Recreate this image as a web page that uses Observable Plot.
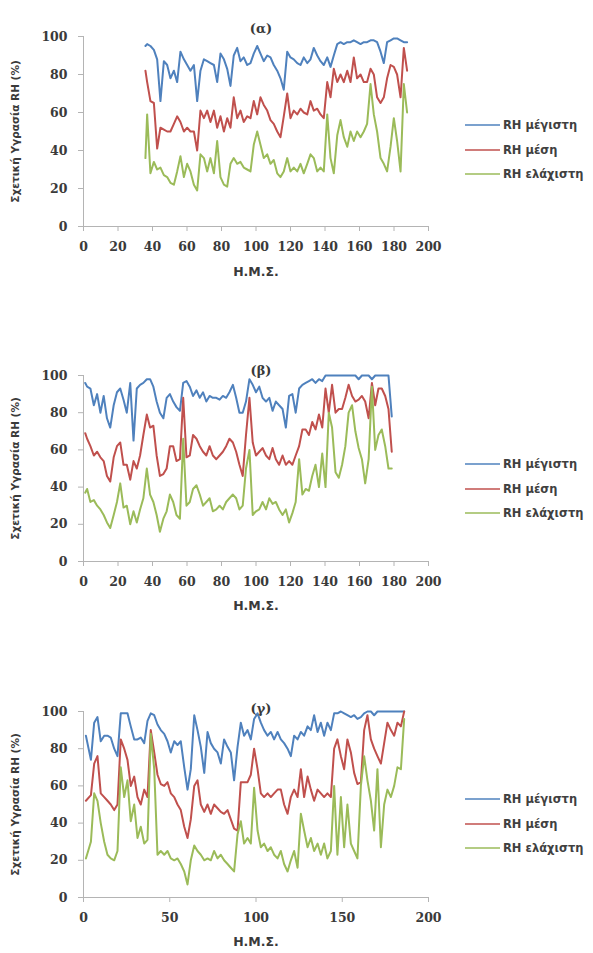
<!DOCTYPE html>
<html>
<head>
<meta charset="utf-8">
<script src="https://cdn.jsdelivr.net/npm/d3@7"></script>
<script src="https://cdn.jsdelivr.net/npm/@observablehq/plot@0.6"></script>
<style>
  html, body { margin: 0; padding: 0; background: #fff; }
  #root { position: relative; width: 593px; height: 953px; overflow: hidden; }
  .panel { position: absolute; left: 0; }
  .legend { position: absolute; left: 465px; font-family: "DejaVu Sans", sans-serif; font-weight: bold; font-size: 11.5px; color: #404040; }
  .legend .item { display: flex; align-items: center; height: 24.5px; }
  .legend .sw { width: 35px; height: 2px; margin-right: 3px; opacity: 0.75; }
</style>
</head>
<body>
<div id="root"></div>
<script>
// ---------- labels ----------
const seriesNames = ["RH μέγιστη", "RH μέση", "RH ελάχιστη"];
const seriesColors = ["#4F81BD", "#C0504D", "#9BBB59"];
const yLabel = "Σχετική Υγρασία RH (%)";
const xLabel = "Η.Μ.Σ.";
const panelTitles = ["(α)", "(β)", "(γ)"];
const yTicks = [0, 20, 40, 60, 80, 100];
const xTicksAB = [0, 20, 40, 60, 80, 100, 120, 140, 160, 180, 200];
const xTicksC = [0, 50, 100, 150, 200];

// ---------- panel (α) ----------
const aDays = [35.9, 36.9, 38.8, 40.8, 42.7, 44.6, 46.6, 48.5, 50.4, 52.4,
  54.3, 56.2, 58.2, 60.1, 62.0, 64.0, 65.9, 67.8, 69.8, 71.7,
  73.6, 75.6, 77.5, 79.4, 81.4, 83.3, 85.2, 87.1, 89.1, 91.0,
  92.9, 94.9, 96.8, 98.7, 100.7, 102.6, 104.5, 106.5, 108.4, 110.3,
  112.3, 114.2, 116.1, 118.1, 120.0, 121.9, 123.9, 125.8, 127.7, 129.7,
  131.6, 133.5, 135.5, 137.4, 139.3, 141.3, 143.2, 145.1, 147.1, 149.0,
  150.9, 152.9, 154.8, 156.7, 158.6, 160.6, 162.5, 164.4, 166.4, 168.3,
  170.2, 172.2, 174.1, 176.0, 178.0, 179.9, 181.8, 183.8, 185.7, 187.6];
const aMax = [95, 96, 95, 93, 88, 66, 87, 85, 78, 82,
  76, 92, 88, 85, 82, 85, 66, 82, 88, 87,
  86, 85, 76, 91, 88, 83, 74, 90, 94, 87,
  89, 85, 86, 91, 95, 91, 87, 90, 89, 85,
  82, 78, 72, 92, 89, 88, 86, 85, 89, 86,
  88, 94, 90, 87, 85, 89, 84, 90, 96, 97,
  96, 97, 97, 98, 97, 96, 97, 97, 98, 98,
  97, 92, 86, 97, 98, 99, 99, 98, 97, 97];
const aMean = [82, 76, 66, 65, 41, 52, 51, 50, 50, 54,
  58, 55, 50, 52, 50, 50, 40, 61, 57, 61,
  55, 61, 52, 58, 50, 57, 52, 68, 57, 61,
  55, 58, 57, 66, 59, 68, 64, 61, 56, 54,
  50, 47, 58, 70, 57, 61, 59, 62, 60, 59,
  66, 61, 62, 59, 57, 76, 68, 83, 76, 80,
  76, 82, 76, 89, 78, 80, 76, 76, 83, 80,
  68, 65, 68, 78, 85, 84, 80, 68, 94, 82];
const aMin = [36, 59, 28, 34, 30, 31, 27, 26, 23, 22,
  29, 37, 26, 33, 29, 22, 19, 38, 36, 29,
  36, 28, 45, 26, 22, 21, 33, 36, 33, 34,
  31, 30, 29, 43, 50, 43, 36, 38, 33, 35,
  28, 26, 29, 36, 29, 31, 29, 33, 28, 33,
  38, 36, 29, 31, 29, 59, 36, 28, 48, 56,
  47, 42, 50, 45, 50, 47, 50, 54, 75, 59,
  50, 36, 33, 29, 42, 57, 45, 29, 75, 60];

// ---------- panel (β) ----------
const bDays = [1, 2.1, 4.0, 6.0, 7.9, 9.8, 11.7, 13.6, 15.5, 17.5,
  19.4, 21.3, 23.2, 25.1, 27.1, 29.0, 30.9, 32.8, 34.7, 36.7,
  38.6, 40.5, 42.4, 44.3, 46.3, 48.2, 50.1, 52.0, 53.9, 55.9,
  57.8, 59.7, 61.6, 63.5, 65.5, 67.4, 69.3, 71.2, 73.1, 75.0,
  77.0, 78.9, 80.8, 82.7, 84.6, 86.6, 88.5, 90.4, 92.3, 94.2,
  96.2, 98.1, 100.0, 101.9, 103.8, 105.8, 107.7, 109.6, 111.5, 113.4,
  115.4, 117.3, 119.2, 121.1, 123.0, 125.0, 126.9, 128.8, 130.7, 132.6,
  134.5, 136.5, 138.4, 140.3, 142.2, 144.1, 146.1, 148.0, 149.9, 151.8,
  153.7, 155.7, 157.6, 159.5, 161.4, 163.3, 165.3, 167.2, 169.1, 171.0,
  172.9, 174.9, 176.8, 178.7];
const bMax = [96, 94, 93, 84, 90, 80, 89, 77, 72, 84,
  91, 93, 87, 80, 96, 65, 93, 95, 96, 98,
  98, 94, 86, 80, 77, 88, 90, 86, 83, 81,
  96, 97, 94, 89, 92, 88, 91, 86, 89, 88,
  88, 87, 89, 88, 91, 95, 88, 80, 80, 86,
  98, 95, 91, 94, 88, 86, 88, 81, 86, 84,
  82, 72, 89, 90, 80, 93, 95, 96, 97, 98,
  96, 98, 97, 100, 100, 100, 100, 100, 100, 100,
  100, 100, 100, 98, 100, 100, 100, 98, 100, 100,
  100, 100, 100, 78];
const bMean = [69, 66, 62, 57, 59, 56, 54, 46, 43, 56,
  62, 64, 52, 52, 44, 54, 50, 57, 68, 79,
  72, 73, 57, 46, 47, 50, 62, 62, 54, 55,
  88, 56, 57, 68, 66, 62, 59, 57, 62, 57,
  55, 57, 59, 62, 66, 64, 59, 52, 46, 68,
  88, 64, 57, 59, 61, 57, 55, 61, 55, 52,
  57, 52, 54, 52, 57, 62, 71, 71, 68, 75,
  71, 79, 72, 93, 80, 95, 80, 82, 82, 88,
  95, 89, 86, 87, 89, 86, 77, 96, 84, 93,
  93, 89, 82, 59];
const bMin = [37, 39, 32, 33, 30, 28, 25, 21, 18, 25,
  32, 42, 29, 30, 20, 27, 21, 28, 34, 50,
  36, 32, 25, 16, 23, 27, 36, 32, 25, 23,
  66, 30, 32, 39, 41, 36, 30, 32, 34, 27,
  28, 30, 28, 32, 34, 36, 34, 28, 30, 50,
  60, 25, 27, 28, 32, 28, 34, 31, 32, 28,
  25, 28, 21, 26, 32, 55, 36, 39, 38, 46,
  52, 40, 58, 40, 80, 72, 48, 45, 52, 62,
  80, 84, 70, 61, 55, 42, 55, 94, 60, 68,
  71, 62, 50, 50];

// ---------- panel (γ) ----------
const cDays = [1.4, 4.3, 6.2, 8.1, 10.0, 12.0, 13.9, 15.8, 17.8, 19.7,
  21.6, 23.6, 25.5, 27.4, 29.4, 31.3, 33.2, 35.2, 37.1, 39.0,
  41.0, 42.9, 44.8, 46.8, 48.7, 50.6, 52.6, 54.5, 56.4, 58.4,
  60.3, 62.2, 64.2, 66.1, 68.0, 70.0, 71.9, 73.8, 75.7, 77.7,
  79.6, 81.5, 83.5, 85.4, 87.3, 89.3, 91.2, 93.1, 95.1, 97.0,
  98.9, 100.9, 102.8, 104.7, 106.7, 108.6, 110.5, 112.5, 114.4, 116.3,
  118.3, 120.2, 122.1, 124.1, 126.0, 127.9, 129.9, 131.8, 133.7, 135.7,
  137.6, 139.5, 141.4, 143.4, 145.3, 147.2, 149.2, 151.1, 153.0, 155.0,
  156.9, 158.8, 160.8, 162.7, 164.6, 166.6, 168.5, 170.4, 172.4, 174.3,
  176.2, 178.2, 180.1, 182.0, 184.0, 185.9];
const cMax = [87, 74, 94, 97, 84, 87, 87, 86, 80, 76,
  99, 99, 99, 92, 85, 85, 86, 83, 95, 99,
  98, 93, 90, 88, 84, 78, 84, 82, 84, 70,
  58, 69, 98, 90, 81, 67, 89, 83, 80, 78,
  72, 85, 81, 78, 63, 81, 94, 87, 90, 85,
  96, 99, 94, 90, 87, 89, 85, 89, 85, 83,
  80, 76, 87, 85, 89, 87, 92, 90, 98, 89,
  94, 87, 94, 90, 99, 99, 100, 99, 98, 97,
  98, 96, 97, 99, 100, 100, 98, 100, 100, 100,
  100, 100, 100, 100, 100, 100];
const cMean = [52, 55, 72, 76, 56, 54, 52, 50, 47, 50,
  85, 80, 74, 60, 65, 54, 50, 58, 54, 90,
  78, 66, 61, 60, 62, 56, 54, 50, 47, 38,
  32, 42, 60, 63, 50, 46, 50, 45, 50, 48,
  46, 45, 47, 42, 37, 36, 62, 62, 62, 66,
  80, 69, 56, 54, 56, 54, 56, 58, 58, 50,
  45, 54, 58, 54, 69, 54, 65, 58, 52, 58,
  56, 54, 56, 54, 80, 85, 76, 69, 85, 78,
  67, 61, 62, 90, 98, 85, 80, 76, 72, 83,
  94, 90, 87, 94, 92, 100];
const cMin = [21, 30, 56, 52, 40, 30, 23, 21, 20, 25,
  70, 54, 63, 41, 50, 32, 38, 29, 31, 88,
  69, 23, 25, 23, 25, 21, 20, 21, 18, 14,
  7, 20, 28, 25, 23, 20, 21, 20, 25, 21,
  23, 20, 18, 16, 14, 34, 41, 29, 32, 29,
  59, 36, 27, 29, 25, 27, 23, 21, 25, 18,
  14, 20, 25, 16, 45, 36, 27, 32, 25, 29,
  23, 29, 21, 25, 60, 23, 54, 27, 50, 29,
  25, 21, 60, 76, 63, 52, 36, 69, 27, 50,
  58, 54, 60, 70, 69, 96];

// ---------- build ----------
const root = document.getElementById("root");
const axisGray = "#b4b4b4";
const textGray = "#3a3a3a";

function buildRows(days, lists) {
  const rows = [];
  lists.forEach((vals, k) => {
    const n = Math.min(days.length, vals.length);
    for (let i = 0; i < n; i++) rows.push({day: days[i], rh: vals[i], series: seriesNames[k]});
  });
  return rows;
}

const panels = [
  {days: aDays, lists: [aMax, aMean, aMin], xTicks: xTicksAB, title: panelTitles[0], top: 0, h: 290, plotH: 190, titleDy: -13, xlabDy: 49, legendTop: 125},
  {days: bDays, lists: [bMax, bMean, bMin], xTicks: xTicksAB, title: panelTitles[1], top: 339, h: 290, plotH: 186, titleDy: -10, xlabDy: 48, legendTop: 464},
  {days: cDays, lists: [cMax, cMean, cMin], xTicks: xTicksC, title: panelTitles[2], top: 675, h: 278, plotH: 186, titleDy: -8, xlabDy: 48, legendTop: 799}
];

panels.forEach(p => {
  const rows = buildRows(p.days, p.lists);
  const mt = 36;
  const mb = p.h - mt - p.plotH;
  const chart = Plot.plot({
    width: 593,
    height: p.h,
    marginLeft: 83,
    marginRight: 165,
    marginTop: mt,
    marginBottom: mb,
    style: {background: "transparent", overflow: "visible"},
    x: {domain: [0, 200]},
    y: {domain: [0, 100]},
    color: {domain: seriesNames, range: seriesColors},
    marks: [
      Plot.ruleX([0], {stroke: axisGray, strokeWidth: 1}),
      Plot.ruleY([0], {stroke: axisGray, strokeWidth: 1}),
      Plot.axisY({ticks: yTicks, tickSize: 5, tickPadding: 11, stroke: axisGray, fill: textGray,
        fontFamily: "DejaVu Serif", fontWeight: "bold", fontSize: 12.5, label: null}),
      Plot.axisX({ticks: p.xTicks, tickSize: 5, tickPadding: 11, stroke: axisGray, fill: textGray,
        fontFamily: "DejaVu Serif", fontWeight: "bold", fontSize: 12.5, label: null}),
      Plot.line(rows, {x: "day", y: "rh", z: "series", stroke: "series", strokeWidth: 2, curve: "linear"}),
      Plot.text([yLabel], {text: d => d, frameAnchor: "left", textAnchor: "middle", rotate: -90, dx: -68,
        fontFamily: "DejaVu Sans", fontWeight: "bold", fontSize: 10.5, fill: textGray}),
      Plot.text([xLabel], {text: d => d, frameAnchor: "bottom", dy: p.xlabDy,
        fontFamily: "DejaVu Sans", fontWeight: "bold", fontSize: 12.5, fill: textGray}),
      Plot.text([p.title], {text: d => d, frameAnchor: "top", dy: p.titleDy, dx: 5,
        fontFamily: "DejaVu Serif", fontWeight: "bold", fontSize: 13, fill: textGray})
    ]
  });
  const wrap = document.createElement("div");
  wrap.className = "panel";
  wrap.style.top = p.top + "px";
  wrap.appendChild(chart);
  root.appendChild(wrap);

  const lg = document.createElement("div");
  lg.className = "legend";
  lg.style.top = (p.legendTop - 12) + "px";
  seriesNames.forEach((name, k) => {
    const it = document.createElement("div");
    it.className = "item";
    const sw = document.createElement("span");
    sw.className = "sw";
    sw.style.background = seriesColors[k];
    const tx = document.createElement("span");
    tx.textContent = name;
    it.appendChild(sw);
    it.appendChild(tx);
    lg.appendChild(it);
  });
  root.appendChild(lg);
});
</script>
</body>
</html>
